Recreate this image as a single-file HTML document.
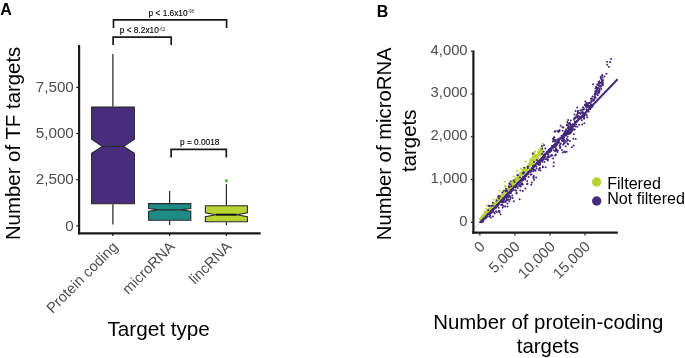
<!DOCTYPE html>
<html><head><meta charset="utf-8"><style>
html,body{margin:0;padding:0;background:#fff;width:685px;height:358px;overflow:hidden;}
svg{display:block;will-change:transform;}
text{font-family:"Liberation Sans",sans-serif;}
</style></head><body>
<svg width="685" height="358" viewBox="0 0 685 358">
<rect width="685" height="358" fill="#fff"/>
<g>
<text id="tA" x="0.2" y="15" font-size="16" font-weight="bold" fill="#000">A</text>
<text id="tB" x="376.8" y="16.8" font-size="16" font-weight="bold" fill="#000">B</text>
</g>
<g stroke="#1a1a1a" stroke-width="1.7" fill="none" stroke-linecap="butt">
<path d="M113.5 28 V19.9 H226.6 V28"/>
<path d="M113.1 45 V37.1 H171.2 V45"/>
<path d="M171.1 157.5 V149.4 H226.3 V157.5"/>
</g>
<g font-size="8.3" fill="#000" stroke="#000" stroke-width="0.12">
<text id="p1" x="148.6" y="15.5">p &lt; 1.6x10<tspan font-size="4.5" dy="-2.8" stroke-width="0" fill="#333">-98</tspan></text>
<text id="p2" x="119.8" y="33.4">p &lt; 8.2x10<tspan font-size="4.5" dy="-2.8" stroke-width="0" fill="#333">-63</tspan></text>
<text id="p3" x="180" y="144.9">p = 0.0018</text>
</g>
<g stroke="#2a2a2a" stroke-width="1.25">
<line x1="112.9" y1="53.9" x2="112.9" y2="106.6"/><line x1="112.9" y1="204.3" x2="112.9" y2="224.4"/>
<line x1="169.6" y1="191" x2="169.6" y2="203.1"/><line x1="169.6" y1="220.7" x2="169.6" y2="225"/>
<line x1="226.4" y1="184" x2="226.4" y2="205.3"/><line x1="226.4" y1="222.3" x2="226.4" y2="225"/>
</g>
<path d="M91.6 107.1 H134.4 V139.2 L123.8 146.4 L134.4 153.2 V203.8 H91.6 V153.2 L102.2 146.4 L91.6 139.2 Z" fill="#472d7b" stroke="#2a2a2a" stroke-width="1.1" stroke-linejoin="miter"/>
<line x1="102.2" y1="146.4" x2="123.8" y2="146.4" stroke="#2a2a2a" stroke-width="1.2"/>
<path d="M148.6 203.6 H190.8 V208.6 L180.2 209.9 L190.8 211.3 V220.2 H148.6 V211.3 L159.2 209.9 L148.6 208.6 Z" fill="#1f8b86" stroke="#2a2a2a" stroke-width="1.1" stroke-linejoin="miter"/>
<line x1="159.2" y1="209.9" x2="180.2" y2="209.9" stroke="#2a2a2a" stroke-width="1.2"/>
<path d="M205.4 205.8 H247.4 V212.9 L236.8 214.7 L247.4 216.6 V221.8 H205.4 V216.6 L216.0 214.7 L205.4 212.9 Z" fill="#b8d432" stroke="#2a2a2a" stroke-width="1.1" stroke-linejoin="miter"/>
<line x1="216" y1="214.7" x2="236.8" y2="214.7" stroke="#111" stroke-width="2"/>
<circle cx="226.4" cy="180.8" r="1.7" fill="#5ec04c"/>
<g stroke="#1a1a1a" fill="none">
<line x1="79.1" y1="44.9" x2="79.1" y2="234.4" stroke-width="2.2"/>
<line x1="78" y1="233.3" x2="260.7" y2="233.3" stroke-width="2.2"/>
<line x1="76.3" y1="87.4" x2="78.5" y2="87.4" stroke-width="1.2"/>
<line x1="76.3" y1="133.55" x2="78.5" y2="133.55" stroke-width="1.2"/>
<line x1="76.3" y1="179.7" x2="78.5" y2="179.7" stroke-width="1.2"/>
<line x1="76.3" y1="225.9" x2="78.5" y2="225.9" stroke-width="1.2"/>
<line x1="112.8" y1="234" x2="112.8" y2="236" stroke-width="1.2"/>
<line x1="169.6" y1="234" x2="169.6" y2="236" stroke-width="1.2"/>
<line x1="226.4" y1="234" x2="226.4" y2="236" stroke-width="1.2"/>
</g>
<g font-size="15.2" fill="#4d4d4d" text-anchor="end">
<text id="ay0" x="73.8" y="92.0">7,500</text>
<text id="ay1" x="73.8" y="138.2">5,000</text>
<text id="ay2" x="73.8" y="184.3">2,500</text>
<text id="ay3" x="73.8" y="230.5">0</text>
</g>
<g font-size="14.7" fill="#4d4d4d" text-anchor="end">
<text id="ax0" transform="translate(118.8,247.6) rotate(-45)">Protein coding</text>
<text id="ax1" transform="translate(175.6,247.6) rotate(-45)">microRNA</text>
<text id="ax2" transform="translate(232.4,247.6) rotate(-45)">lincRNA</text>
</g>
<text id="axt" x="158.6" y="336" font-size="20.7" fill="#000" text-anchor="middle">Target type</text>
<text id="ayt" transform="translate(20.2,143.4) rotate(-90)" font-size="20.4" fill="#000" text-anchor="middle">Number of TF targets</text>
<line x1="474.7" y1="228.5" x2="480" y2="222.3" stroke="#c9c3dc" stroke-width="0.8"/>
<g fill="#44287a"><circle cx="509.5" cy="193.5" r="1.0"/><circle cx="485.9" cy="216.1" r="1.0"/><circle cx="484.8" cy="217.9" r="1.0"/><circle cx="519.6" cy="182.3" r="1.0"/><circle cx="518.5" cy="183.0" r="1.0"/><circle cx="499.0" cy="201.2" r="1.0"/><circle cx="534.0" cy="165.2" r="1.0"/><circle cx="483.5" cy="219.4" r="1.0"/><circle cx="492.7" cy="210.5" r="1.0"/><circle cx="557.2" cy="143.9" r="1.0"/><circle cx="539.7" cy="160.3" r="1.0"/><circle cx="485.3" cy="218.0" r="1.0"/><circle cx="543.6" cy="156.2" r="1.0"/><circle cx="534.3" cy="165.8" r="1.0"/><circle cx="554.3" cy="145.1" r="1.0"/><circle cx="532.9" cy="165.7" r="1.0"/><circle cx="549.3" cy="151.3" r="1.0"/><circle cx="490.4" cy="211.5" r="1.0"/><circle cx="493.1" cy="209.1" r="1.0"/><circle cx="541.7" cy="158.4" r="1.0"/><circle cx="563.2" cy="136.1" r="1.0"/><circle cx="534.8" cy="164.8" r="1.0"/><circle cx="558.9" cy="142.1" r="1.0"/><circle cx="542.0" cy="160.3" r="1.0"/><circle cx="540.1" cy="162.5" r="1.0"/><circle cx="505.8" cy="195.7" r="1.0"/><circle cx="481.8" cy="220.8" r="1.0"/><circle cx="490.2" cy="213.7" r="1.0"/><circle cx="491.5" cy="211.5" r="1.0"/><circle cx="562.4" cy="138.6" r="1.0"/><circle cx="530.2" cy="171.7" r="1.0"/><circle cx="561.9" cy="137.9" r="1.0"/><circle cx="511.7" cy="191.0" r="1.0"/><circle cx="493.3" cy="209.7" r="1.0"/><circle cx="500.7" cy="200.5" r="1.0"/><circle cx="503.4" cy="199.5" r="1.0"/><circle cx="513.0" cy="186.3" r="1.0"/><circle cx="544.3" cy="154.5" r="1.0"/><circle cx="543.3" cy="159.8" r="1.0"/><circle cx="552.7" cy="148.4" r="1.0"/><circle cx="515.7" cy="185.7" r="1.0"/><circle cx="539.0" cy="162.1" r="1.0"/><circle cx="498.6" cy="204.3" r="1.0"/><circle cx="484.3" cy="218.9" r="1.0"/><circle cx="488.7" cy="214.0" r="1.0"/><circle cx="562.4" cy="136.4" r="1.0"/><circle cx="502.7" cy="199.3" r="1.0"/><circle cx="489.5" cy="213.3" r="1.0"/><circle cx="522.6" cy="178.3" r="1.0"/><circle cx="488.9" cy="213.7" r="1.0"/><circle cx="558.1" cy="142.0" r="1.0"/><circle cx="570.1" cy="127.7" r="1.0"/><circle cx="530.1" cy="172.2" r="1.0"/><circle cx="572.4" cy="126.8" r="1.0"/><circle cx="503.4" cy="198.6" r="1.0"/><circle cx="552.2" cy="145.7" r="1.0"/><circle cx="510.3" cy="192.4" r="1.0"/><circle cx="572.9" cy="126.2" r="1.0"/><circle cx="556.7" cy="142.9" r="1.0"/><circle cx="527.7" cy="173.4" r="1.0"/><circle cx="482.5" cy="220.6" r="1.0"/><circle cx="544.5" cy="157.0" r="1.0"/><circle cx="568.7" cy="133.4" r="1.0"/><circle cx="513.2" cy="188.9" r="1.0"/><circle cx="497.8" cy="205.4" r="1.0"/><circle cx="564.7" cy="134.9" r="1.0"/><circle cx="540.6" cy="160.0" r="1.0"/><circle cx="541.1" cy="160.7" r="1.0"/><circle cx="550.3" cy="149.2" r="1.0"/><circle cx="554.7" cy="144.9" r="1.0"/><circle cx="572.4" cy="125.1" r="1.0"/><circle cx="569.5" cy="128.8" r="1.0"/><circle cx="491.6" cy="212.6" r="1.0"/><circle cx="556.4" cy="145.6" r="1.0"/><circle cx="572.7" cy="124.5" r="1.0"/><circle cx="530.6" cy="170.5" r="1.0"/><circle cx="571.7" cy="125.3" r="1.0"/><circle cx="568.7" cy="127.9" r="1.0"/><circle cx="558.0" cy="142.4" r="1.0"/><circle cx="506.7" cy="195.8" r="1.0"/><circle cx="503.1" cy="198.7" r="1.0"/><circle cx="566.4" cy="132.2" r="1.0"/><circle cx="533.7" cy="167.8" r="1.0"/><circle cx="566.8" cy="130.6" r="1.0"/><circle cx="528.2" cy="174.0" r="1.0"/><circle cx="496.0" cy="207.7" r="1.0"/><circle cx="495.1" cy="206.3" r="1.0"/><circle cx="531.8" cy="169.0" r="1.0"/><circle cx="531.1" cy="169.8" r="1.0"/><circle cx="532.0" cy="169.2" r="1.0"/><circle cx="552.4" cy="146.1" r="1.0"/><circle cx="551.0" cy="150.0" r="1.0"/><circle cx="536.8" cy="162.7" r="1.0"/><circle cx="544.8" cy="154.5" r="1.0"/><circle cx="523.5" cy="178.9" r="1.0"/><circle cx="562.6" cy="137.7" r="1.0"/><circle cx="531.4" cy="171.2" r="1.0"/><circle cx="492.1" cy="211.3" r="1.0"/><circle cx="486.2" cy="216.7" r="1.0"/><circle cx="541.5" cy="158.7" r="1.0"/><circle cx="492.8" cy="208.9" r="1.0"/><circle cx="491.6" cy="211.5" r="1.0"/><circle cx="499.2" cy="203.6" r="1.0"/><circle cx="524.6" cy="178.4" r="1.0"/><circle cx="494.2" cy="207.7" r="1.0"/><circle cx="510.9" cy="191.5" r="1.0"/><circle cx="547.6" cy="154.3" r="1.0"/><circle cx="520.2" cy="182.1" r="1.0"/><circle cx="537.9" cy="162.4" r="1.0"/><circle cx="572.5" cy="125.6" r="1.0"/><circle cx="489.0" cy="213.7" r="1.0"/><circle cx="553.3" cy="146.9" r="1.0"/><circle cx="518.0" cy="184.5" r="1.0"/><circle cx="503.7" cy="200.2" r="1.0"/><circle cx="532.5" cy="168.0" r="1.0"/><circle cx="484.3" cy="217.8" r="1.0"/><circle cx="485.8" cy="217.6" r="1.0"/><circle cx="555.7" cy="146.8" r="1.0"/><circle cx="485.2" cy="217.7" r="1.0"/><circle cx="510.2" cy="189.4" r="1.0"/><circle cx="504.2" cy="198.9" r="1.0"/><circle cx="501.2" cy="201.4" r="1.0"/><circle cx="484.5" cy="218.9" r="1.0"/><circle cx="507.0" cy="194.6" r="1.0"/><circle cx="526.2" cy="175.7" r="1.0"/><circle cx="481.5" cy="221.5" r="1.0"/><circle cx="548.5" cy="151.0" r="1.0"/><circle cx="523.4" cy="178.2" r="1.0"/><circle cx="557.2" cy="141.6" r="1.0"/><circle cx="558.9" cy="140.1" r="1.0"/><circle cx="544.1" cy="157.4" r="1.0"/><circle cx="557.8" cy="141.0" r="1.0"/><circle cx="516.9" cy="184.6" r="1.0"/><circle cx="491.4" cy="212.4" r="1.0"/><circle cx="502.8" cy="199.6" r="1.0"/><circle cx="558.8" cy="141.9" r="1.0"/><circle cx="505.5" cy="196.9" r="1.0"/><circle cx="522.3" cy="179.9" r="1.0"/><circle cx="503.1" cy="200.7" r="1.0"/><circle cx="531.5" cy="170.6" r="1.0"/><circle cx="507.7" cy="194.1" r="1.0"/><circle cx="514.6" cy="186.0" r="1.0"/><circle cx="497.6" cy="204.6" r="1.0"/><circle cx="503.7" cy="199.3" r="1.0"/><circle cx="483.4" cy="220.0" r="1.0"/><circle cx="500.3" cy="200.8" r="1.0"/><circle cx="549.8" cy="148.9" r="1.0"/><circle cx="563.2" cy="135.6" r="1.0"/><circle cx="574.0" cy="126.1" r="1.0"/><circle cx="540.0" cy="162.9" r="1.0"/><circle cx="563.8" cy="133.6" r="1.0"/><circle cx="556.7" cy="144.6" r="1.0"/><circle cx="525.7" cy="175.8" r="1.0"/><circle cx="557.3" cy="139.8" r="1.0"/><circle cx="543.4" cy="156.5" r="1.0"/><circle cx="482.8" cy="220.8" r="1.0"/><circle cx="488.5" cy="214.2" r="1.0"/><circle cx="537.8" cy="161.2" r="1.0"/><circle cx="524.9" cy="178.1" r="1.0"/><circle cx="550.1" cy="148.7" r="1.0"/><circle cx="541.6" cy="160.9" r="1.0"/><circle cx="502.5" cy="200.3" r="1.0"/><circle cx="548.8" cy="152.6" r="1.0"/><circle cx="572.6" cy="124.4" r="1.0"/><circle cx="523.2" cy="176.7" r="1.0"/><circle cx="537.1" cy="163.2" r="1.0"/><circle cx="493.4" cy="209.7" r="1.0"/><circle cx="507.2" cy="194.5" r="1.0"/><circle cx="485.6" cy="217.7" r="1.0"/><circle cx="544.3" cy="155.4" r="1.0"/><circle cx="527.6" cy="172.5" r="1.0"/><circle cx="490.0" cy="212.8" r="1.0"/><circle cx="572.8" cy="125.7" r="1.0"/><circle cx="521.0" cy="180.5" r="1.0"/><circle cx="521.3" cy="180.3" r="1.0"/><circle cx="570.1" cy="129.5" r="1.0"/><circle cx="492.1" cy="208.6" r="1.0"/><circle cx="491.0" cy="211.5" r="1.0"/><circle cx="563.5" cy="135.3" r="1.0"/><circle cx="564.8" cy="134.1" r="1.0"/><circle cx="480.3" cy="222.1" r="1.0"/><circle cx="507.3" cy="195.4" r="1.0"/><circle cx="508.3" cy="193.5" r="1.0"/><circle cx="550.1" cy="150.2" r="1.0"/><circle cx="566.8" cy="130.6" r="1.0"/><circle cx="506.2" cy="195.5" r="1.0"/><circle cx="574.7" cy="122.0" r="1.0"/><circle cx="519.1" cy="182.4" r="1.0"/><circle cx="488.3" cy="214.3" r="1.0"/><circle cx="568.9" cy="130.2" r="1.0"/><circle cx="527.3" cy="174.5" r="1.0"/><circle cx="570.1" cy="129.8" r="1.0"/><circle cx="538.1" cy="164.3" r="1.0"/><circle cx="530.5" cy="170.3" r="1.0"/><circle cx="548.7" cy="149.9" r="1.0"/><circle cx="540.0" cy="160.6" r="1.0"/><circle cx="568.0" cy="132.2" r="1.0"/><circle cx="511.6" cy="190.4" r="1.0"/><circle cx="573.2" cy="125.5" r="1.0"/><circle cx="506.8" cy="194.2" r="1.0"/><circle cx="494.8" cy="208.1" r="1.0"/><circle cx="565.6" cy="132.6" r="1.0"/><circle cx="565.7" cy="134.9" r="1.0"/><circle cx="492.2" cy="210.6" r="1.0"/><circle cx="510.9" cy="191.5" r="1.0"/><circle cx="502.6" cy="197.6" r="1.0"/><circle cx="550.4" cy="148.9" r="1.0"/><circle cx="528.5" cy="172.2" r="1.0"/><circle cx="486.2" cy="217.4" r="1.0"/><circle cx="490.8" cy="210.8" r="1.0"/><circle cx="561.7" cy="138.5" r="1.0"/><circle cx="502.3" cy="199.4" r="1.0"/><circle cx="569.8" cy="129.8" r="1.0"/><circle cx="481.8" cy="222.2" r="1.0"/><circle cx="564.7" cy="132.9" r="1.0"/><circle cx="480.6" cy="221.9" r="1.0"/><circle cx="556.8" cy="144.3" r="1.0"/><circle cx="502.2" cy="200.5" r="1.0"/><circle cx="527.2" cy="172.0" r="1.0"/><circle cx="546.9" cy="151.7" r="1.0"/><circle cx="521.7" cy="179.3" r="1.0"/><circle cx="554.3" cy="147.0" r="1.0"/><circle cx="540.2" cy="160.4" r="1.0"/><circle cx="501.9" cy="199.0" r="1.0"/><circle cx="489.8" cy="213.8" r="1.0"/><circle cx="534.1" cy="166.4" r="1.0"/><circle cx="535.7" cy="166.0" r="1.0"/><circle cx="522.0" cy="180.5" r="1.0"/><circle cx="563.5" cy="135.0" r="1.0"/><circle cx="501.7" cy="201.4" r="1.0"/><circle cx="507.6" cy="195.3" r="1.0"/><circle cx="543.0" cy="156.9" r="1.0"/><circle cx="542.0" cy="159.1" r="1.0"/><circle cx="483.1" cy="219.8" r="1.0"/><circle cx="544.3" cy="157.5" r="1.0"/><circle cx="549.2" cy="150.3" r="1.0"/><circle cx="572.7" cy="125.4" r="1.0"/><circle cx="501.0" cy="202.0" r="1.0"/><circle cx="506.2" cy="196.5" r="1.0"/><circle cx="496.8" cy="206.1" r="1.0"/><circle cx="541.9" cy="159.2" r="1.0"/><circle cx="516.7" cy="186.5" r="1.0"/><circle cx="492.3" cy="210.5" r="1.0"/><circle cx="515.2" cy="187.4" r="1.0"/><circle cx="548.5" cy="154.5" r="1.0"/><circle cx="510.4" cy="193.0" r="1.0"/><circle cx="550.0" cy="152.1" r="1.0"/><circle cx="514.5" cy="186.8" r="1.0"/><circle cx="494.7" cy="208.3" r="1.0"/><circle cx="511.6" cy="190.5" r="1.0"/><circle cx="571.8" cy="127.4" r="1.0"/><circle cx="556.9" cy="143.2" r="1.0"/><circle cx="484.1" cy="218.2" r="1.0"/><circle cx="567.3" cy="132.4" r="1.0"/><circle cx="564.8" cy="135.8" r="1.0"/><circle cx="556.2" cy="143.7" r="1.0"/><circle cx="483.1" cy="221.4" r="1.0"/><circle cx="502.0" cy="199.2" r="1.0"/><circle cx="511.5" cy="191.0" r="1.0"/><circle cx="537.8" cy="163.4" r="1.0"/><circle cx="508.4" cy="193.5" r="1.0"/><circle cx="550.5" cy="150.8" r="1.0"/><circle cx="569.4" cy="130.3" r="1.0"/><circle cx="523.2" cy="180.1" r="1.0"/><circle cx="515.4" cy="186.6" r="1.0"/><circle cx="525.1" cy="176.5" r="1.0"/><circle cx="554.7" cy="144.4" r="1.0"/><circle cx="552.3" cy="146.8" r="1.0"/><circle cx="509.2" cy="192.2" r="1.0"/><circle cx="487.2" cy="216.5" r="1.0"/><circle cx="502.0" cy="200.4" r="1.0"/><circle cx="532.0" cy="168.7" r="1.0"/><circle cx="563.4" cy="137.0" r="1.0"/><circle cx="487.3" cy="216.3" r="1.0"/><circle cx="546.4" cy="153.3" r="1.0"/><circle cx="517.5" cy="182.6" r="1.0"/><circle cx="549.5" cy="151.2" r="1.0"/><circle cx="490.1" cy="212.5" r="1.0"/><circle cx="532.8" cy="167.4" r="1.0"/><circle cx="497.8" cy="204.9" r="1.0"/><circle cx="502.2" cy="204.7" r="1.0"/><circle cx="519.6" cy="199.3" r="1.0"/><circle cx="534.9" cy="170.0" r="1.0"/><circle cx="545.5" cy="159.3" r="1.0"/><circle cx="528.6" cy="177.0" r="1.0"/><circle cx="567.9" cy="140.2" r="1.0"/><circle cx="502.6" cy="207.6" r="1.0"/><circle cx="539.2" cy="168.4" r="1.0"/><circle cx="563.9" cy="143.6" r="1.0"/><circle cx="556.0" cy="148.5" r="1.0"/><circle cx="540.2" cy="164.6" r="1.0"/><circle cx="521.9" cy="183.5" r="1.0"/><circle cx="510.8" cy="197.4" r="1.0"/><circle cx="507.4" cy="200.1" r="1.0"/><circle cx="548.5" cy="156.2" r="1.0"/><circle cx="506.1" cy="197.3" r="1.0"/><circle cx="496.0" cy="211.3" r="1.0"/><circle cx="536.4" cy="166.8" r="1.0"/><circle cx="502.9" cy="200.7" r="1.0"/><circle cx="516.4" cy="193.4" r="1.0"/><circle cx="516.2" cy="190.8" r="1.0"/><circle cx="522.9" cy="191.0" r="1.0"/><circle cx="522.4" cy="184.5" r="1.0"/><circle cx="507.4" cy="206.6" r="1.0"/><circle cx="525.1" cy="178.8" r="1.0"/><circle cx="565.2" cy="140.7" r="1.0"/><circle cx="490.8" cy="217.6" r="1.0"/><circle cx="568.1" cy="144.2" r="1.0"/><circle cx="521.5" cy="184.1" r="1.0"/><circle cx="513.8" cy="201.2" r="1.0"/><circle cx="499.4" cy="212.2" r="1.0"/><circle cx="572.7" cy="129.6" r="1.0"/><circle cx="570.0" cy="141.0" r="1.0"/><circle cx="494.1" cy="212.5" r="1.0"/><circle cx="565.6" cy="146.3" r="1.0"/><circle cx="502.9" cy="200.0" r="1.0"/><circle cx="522.8" cy="184.5" r="1.0"/><circle cx="506.5" cy="198.3" r="1.0"/><circle cx="534.4" cy="170.3" r="1.0"/><circle cx="508.9" cy="193.4" r="1.0"/><circle cx="492.9" cy="216.4" r="1.0"/><circle cx="492.8" cy="211.1" r="1.0"/><circle cx="540.5" cy="170.6" r="1.0"/><circle cx="516.7" cy="193.1" r="1.0"/><circle cx="525.3" cy="179.6" r="1.0"/><circle cx="527.5" cy="183.8" r="1.0"/><circle cx="533.3" cy="171.2" r="1.0"/><circle cx="556.5" cy="149.7" r="1.0"/><circle cx="530.6" cy="174.4" r="1.0"/><circle cx="527.2" cy="181.3" r="1.0"/><circle cx="533.7" cy="178.0" r="1.0"/><circle cx="495.3" cy="206.9" r="1.0"/><circle cx="533.9" cy="176.1" r="1.0"/><circle cx="522.0" cy="183.2" r="1.0"/><circle cx="562.8" cy="152.5" r="1.0"/><circle cx="561.9" cy="150.1" r="1.0"/><circle cx="531.2" cy="184.8" r="1.0"/><circle cx="501.8" cy="201.6" r="1.0"/><circle cx="496.9" cy="212.0" r="1.0"/><circle cx="503.0" cy="202.5" r="1.0"/><circle cx="560.3" cy="147.8" r="1.0"/><circle cx="568.9" cy="134.0" r="1.0"/><circle cx="533.3" cy="169.5" r="1.0"/><circle cx="507.5" cy="203.6" r="1.0"/><circle cx="547.4" cy="157.2" r="1.0"/><circle cx="557.5" cy="152.1" r="1.0"/><circle cx="545.7" cy="167.3" r="1.0"/><circle cx="536.2" cy="177.6" r="1.0"/><circle cx="498.8" cy="210.7" r="1.0"/><circle cx="522.8" cy="180.0" r="1.0"/><circle cx="573.8" cy="134.2" r="1.0"/><circle cx="555.2" cy="150.8" r="1.0"/><circle cx="553.8" cy="162.6" r="1.0"/><circle cx="509.4" cy="201.2" r="1.0"/><circle cx="539.1" cy="165.0" r="1.0"/><circle cx="490.3" cy="215.5" r="1.0"/><circle cx="542.9" cy="167.3" r="1.0"/><circle cx="566.7" cy="138.8" r="1.0"/><circle cx="545.5" cy="156.2" r="1.0"/><circle cx="520.8" cy="186.5" r="1.0"/><circle cx="508.4" cy="199.7" r="1.0"/><circle cx="506.6" cy="199.6" r="1.0"/><circle cx="501.2" cy="204.8" r="1.0"/><circle cx="503.5" cy="206.0" r="1.0"/><circle cx="563.1" cy="138.3" r="1.0"/><circle cx="512.6" cy="198.1" r="1.0"/><circle cx="539.0" cy="170.0" r="1.0"/><circle cx="527.1" cy="184.2" r="1.0"/><circle cx="511.0" cy="192.8" r="1.0"/><circle cx="535.6" cy="170.8" r="1.0"/><circle cx="494.8" cy="208.4" r="1.0"/><circle cx="536.6" cy="168.5" r="1.0"/><circle cx="506.2" cy="200.6" r="1.0"/><circle cx="544.0" cy="158.6" r="1.0"/><circle cx="516.6" cy="186.6" r="1.0"/><circle cx="564.0" cy="137.8" r="1.0"/><circle cx="489.2" cy="216.6" r="1.0"/><circle cx="528.5" cy="172.7" r="1.0"/><circle cx="509.7" cy="196.5" r="1.0"/><circle cx="494.7" cy="213.6" r="1.0"/><circle cx="547.8" cy="159.2" r="1.0"/><circle cx="512.3" cy="195.5" r="1.0"/><circle cx="556.9" cy="150.5" r="1.0"/><circle cx="544.4" cy="162.0" r="1.0"/><circle cx="564.9" cy="142.8" r="1.0"/><circle cx="507.7" cy="193.0" r="1.0"/><circle cx="555.2" cy="155.6" r="1.0"/><circle cx="520.1" cy="185.2" r="1.0"/><circle cx="542.2" cy="161.7" r="1.0"/><circle cx="573.6" cy="145.4" r="1.0"/><circle cx="548.5" cy="157.2" r="1.0"/><circle cx="551.2" cy="155.8" r="1.0"/><circle cx="507.7" cy="196.2" r="1.0"/><circle cx="567.6" cy="134.2" r="1.0"/><circle cx="498.7" cy="207.8" r="1.0"/><circle cx="502.1" cy="202.3" r="1.0"/><circle cx="547.7" cy="160.6" r="1.0"/><circle cx="553.2" cy="158.6" r="1.0"/><circle cx="519.2" cy="186.0" r="1.0"/><circle cx="566.6" cy="151.8" r="1.0"/><circle cx="567.6" cy="136.8" r="1.0"/><circle cx="507.7" cy="196.3" r="1.0"/><circle cx="560.7" cy="143.4" r="1.0"/><circle cx="559.5" cy="145.5" r="1.0"/><circle cx="499.5" cy="210.9" r="1.0"/><circle cx="508.4" cy="197.6" r="1.0"/><circle cx="492.6" cy="211.7" r="1.0"/><circle cx="551.5" cy="155.1" r="1.0"/><circle cx="571.9" cy="147.3" r="1.0"/><circle cx="542.8" cy="166.6" r="1.0"/><circle cx="526.2" cy="175.7" r="1.0"/><circle cx="549.7" cy="156.7" r="1.0"/><circle cx="564.3" cy="151.5" r="1.0"/><circle cx="504.5" cy="201.7" r="1.0"/><circle cx="554.8" cy="146.8" r="1.0"/><circle cx="531.8" cy="182.4" r="1.0"/><circle cx="505.7" cy="201.8" r="1.0"/><circle cx="563.1" cy="141.3" r="1.0"/><circle cx="515.6" cy="190.3" r="1.0"/><circle cx="533.3" cy="177.0" r="1.0"/><circle cx="495.4" cy="207.9" r="1.0"/><circle cx="556.2" cy="149.5" r="1.0"/><circle cx="525.4" cy="188.6" r="1.0"/><circle cx="497.2" cy="206.6" r="1.0"/><circle cx="509.7" cy="196.1" r="1.0"/><circle cx="534.0" cy="179.7" r="1.0"/><circle cx="510.2" cy="199.2" r="1.0"/><circle cx="552.7" cy="146.9" r="1.0"/><circle cx="520.1" cy="184.2" r="1.0"/><circle cx="560.3" cy="146.7" r="1.0"/><circle cx="505.1" cy="206.4" r="1.0"/><circle cx="540.0" cy="168.0" r="1.0"/><circle cx="565.9" cy="135.6" r="1.0"/><circle cx="513.8" cy="190.0" r="1.0"/><circle cx="503.8" cy="201.8" r="1.0"/><circle cx="517.7" cy="188.0" r="1.0"/><circle cx="520.4" cy="190.4" r="1.0"/><circle cx="553.5" cy="166.2" r="1.0"/><circle cx="500.5" cy="214.3" r="1.0"/><circle cx="556.5" cy="144.1" r="1.0"/><circle cx="506.3" cy="197.7" r="1.0"/><circle cx="507.7" cy="196.2" r="1.0"/><circle cx="522.4" cy="180.6" r="1.0"/><circle cx="531.7" cy="174.4" r="1.0"/><circle cx="501.4" cy="204.8" r="1.0"/><circle cx="552.4" cy="155.4" r="1.0"/><circle cx="537.7" cy="162.7" r="1.0"/><circle cx="507.4" cy="195.1" r="1.0"/><circle cx="553.9" cy="150.2" r="1.0"/><circle cx="546.9" cy="158.9" r="1.0"/><circle cx="588.6" cy="109.2" r="1.0"/><circle cx="598.2" cy="92.7" r="1.0"/><circle cx="582.6" cy="112.7" r="1.0"/><circle cx="598.2" cy="85.2" r="1.0"/><circle cx="570.1" cy="133.4" r="1.0"/><circle cx="558.2" cy="139.0" r="1.0"/><circle cx="581.9" cy="109.8" r="1.0"/><circle cx="597.7" cy="95.3" r="1.0"/><circle cx="580.3" cy="110.5" r="1.0"/><circle cx="597.5" cy="88.6" r="1.0"/><circle cx="602.1" cy="84.6" r="1.0"/><circle cx="588.6" cy="111.4" r="1.0"/><circle cx="589.9" cy="106.0" r="1.0"/><circle cx="602.2" cy="75.7" r="1.0"/><circle cx="599.4" cy="91.1" r="1.0"/><circle cx="589.5" cy="102.8" r="1.0"/><circle cx="576.2" cy="116.2" r="1.0"/><circle cx="595.0" cy="97.4" r="1.0"/><circle cx="578.1" cy="110.9" r="1.0"/><circle cx="571.4" cy="128.5" r="1.0"/><circle cx="583.7" cy="113.8" r="1.0"/><circle cx="600.6" cy="76.7" r="1.0"/><circle cx="575.0" cy="122.2" r="1.0"/><circle cx="584.9" cy="104.8" r="1.0"/><circle cx="554.5" cy="141.5" r="1.0"/><circle cx="584.6" cy="115.3" r="1.0"/><circle cx="555.2" cy="151.3" r="1.0"/><circle cx="585.7" cy="104.2" r="1.0"/><circle cx="598.6" cy="82.0" r="1.0"/><circle cx="586.7" cy="105.1" r="1.0"/><circle cx="591.7" cy="104.4" r="1.0"/><circle cx="579.9" cy="117.2" r="1.0"/><circle cx="566.6" cy="141.6" r="1.0"/><circle cx="598.9" cy="83.3" r="1.0"/><circle cx="594.8" cy="93.4" r="1.0"/><circle cx="571.5" cy="126.4" r="1.0"/><circle cx="574.2" cy="118.2" r="1.0"/><circle cx="600.9" cy="86.8" r="1.0"/><circle cx="557.7" cy="150.4" r="1.0"/><circle cx="585.2" cy="114.0" r="1.0"/><circle cx="555.0" cy="140.7" r="1.0"/><circle cx="600.5" cy="86.2" r="1.0"/><circle cx="579.1" cy="124.7" r="1.0"/><circle cx="568.1" cy="131.4" r="1.0"/><circle cx="552.5" cy="146.1" r="1.0"/><circle cx="602.8" cy="85.3" r="1.0"/><circle cx="563.2" cy="144.7" r="1.0"/><circle cx="569.0" cy="128.7" r="1.0"/><circle cx="555.8" cy="143.7" r="1.0"/><circle cx="597.0" cy="89.6" r="1.0"/><circle cx="586.9" cy="105.6" r="1.0"/><circle cx="603.0" cy="83.1" r="1.0"/><circle cx="591.8" cy="101.1" r="1.0"/><circle cx="588.6" cy="105.8" r="1.0"/><circle cx="572.6" cy="124.6" r="1.0"/><circle cx="597.6" cy="88.2" r="1.0"/><circle cx="575.6" cy="117.3" r="1.0"/><circle cx="591.5" cy="107.5" r="1.0"/><circle cx="574.8" cy="117.9" r="1.0"/><circle cx="579.7" cy="113.1" r="1.0"/><circle cx="599.6" cy="83.1" r="1.0"/><circle cx="573.3" cy="138.7" r="1.0"/><circle cx="590.4" cy="103.0" r="1.0"/><circle cx="586.8" cy="115.6" r="1.0"/><circle cx="587.8" cy="107.0" r="1.0"/><circle cx="599.7" cy="83.7" r="1.0"/><circle cx="585.7" cy="114.2" r="1.0"/><circle cx="571.8" cy="130.6" r="1.0"/><circle cx="577.8" cy="111.7" r="1.0"/><circle cx="599.1" cy="92.8" r="1.0"/><circle cx="594.7" cy="96.2" r="1.0"/><circle cx="569.8" cy="132.7" r="1.0"/><circle cx="589.9" cy="105.7" r="1.0"/><circle cx="559.4" cy="131.0" r="1.0"/><circle cx="565.0" cy="131.7" r="1.0"/><circle cx="568.2" cy="123.4" r="1.0"/><circle cx="581.5" cy="117.6" r="1.0"/><circle cx="592.1" cy="99.0" r="1.0"/><circle cx="558.6" cy="142.7" r="1.0"/><circle cx="568.1" cy="119.9" r="1.0"/><circle cx="598.4" cy="83.8" r="1.0"/><circle cx="586.9" cy="110.2" r="1.0"/><circle cx="565.2" cy="131.5" r="1.0"/><circle cx="585.9" cy="106.8" r="1.0"/><circle cx="565.2" cy="152.2" r="1.0"/><circle cx="577.3" cy="126.7" r="1.0"/><circle cx="595.7" cy="97.7" r="1.0"/><circle cx="574.9" cy="122.1" r="1.0"/><circle cx="555.9" cy="154.4" r="1.0"/><circle cx="581.4" cy="112.4" r="1.0"/><circle cx="595.4" cy="88.4" r="1.0"/><circle cx="591.5" cy="100.5" r="1.0"/><circle cx="570.4" cy="131.7" r="1.0"/><circle cx="566.3" cy="134.4" r="1.0"/><circle cx="584.1" cy="114.4" r="1.0"/><circle cx="600.8" cy="83.0" r="1.0"/><circle cx="587.0" cy="107.1" r="1.0"/><circle cx="602.7" cy="80.8" r="1.0"/><circle cx="588.1" cy="111.4" r="1.0"/><circle cx="577.5" cy="117.8" r="1.0"/><circle cx="601.6" cy="82.5" r="1.0"/><circle cx="557.4" cy="143.3" r="1.0"/><circle cx="598.2" cy="90.7" r="1.0"/><circle cx="555.6" cy="144.6" r="1.0"/><circle cx="588.7" cy="106.7" r="1.0"/><circle cx="561.6" cy="135.7" r="1.0"/><circle cx="591.3" cy="101.8" r="1.0"/><circle cx="594.0" cy="99.9" r="1.0"/><circle cx="571.2" cy="132.4" r="1.0"/><circle cx="566.0" cy="134.0" r="1.0"/><circle cx="590.2" cy="109.2" r="1.0"/><circle cx="567.5" cy="143.6" r="1.0"/><circle cx="567.6" cy="140.0" r="1.0"/><circle cx="599.5" cy="89.2" r="1.0"/><circle cx="560.0" cy="147.8" r="1.0"/><circle cx="588.3" cy="103.3" r="1.0"/><circle cx="596.3" cy="87.8" r="1.0"/><circle cx="564.2" cy="135.8" r="1.0"/><circle cx="591.4" cy="98.8" r="1.0"/><circle cx="599.0" cy="88.2" r="1.0"/><circle cx="566.5" cy="133.3" r="1.0"/><circle cx="575.4" cy="126.5" r="1.0"/><circle cx="573.3" cy="126.6" r="1.0"/><circle cx="602.9" cy="85.0" r="1.0"/><circle cx="590.8" cy="105.0" r="1.0"/><circle cx="572.6" cy="126.3" r="1.0"/><circle cx="575.7" cy="138.9" r="1.0"/><circle cx="600.6" cy="86.0" r="1.0"/><circle cx="599.5" cy="91.1" r="1.0"/><circle cx="572.3" cy="126.9" r="1.0"/><circle cx="595.9" cy="92.7" r="1.0"/><circle cx="551.4" cy="150.8" r="1.0"/><circle cx="567.3" cy="122.1" r="1.0"/><circle cx="568.0" cy="128.0" r="1.0"/><circle cx="564.5" cy="134.0" r="1.0"/><circle cx="567.3" cy="133.9" r="1.0"/><circle cx="587.2" cy="104.8" r="1.0"/><circle cx="566.6" cy="125.1" r="1.0"/><circle cx="595.3" cy="91.3" r="1.0"/><circle cx="557.6" cy="140.7" r="1.0"/><circle cx="592.6" cy="106.3" r="1.0"/><circle cx="572.8" cy="129.0" r="1.0"/><circle cx="582.2" cy="124.6" r="1.0"/><circle cx="580.7" cy="118.4" r="1.0"/><circle cx="565.6" cy="135.0" r="1.0"/><circle cx="566.1" cy="129.3" r="1.0"/><circle cx="552.8" cy="141.6" r="1.0"/><circle cx="584.1" cy="118.7" r="1.0"/><circle cx="595.1" cy="94.8" r="1.0"/><circle cx="592.6" cy="96.4" r="1.0"/><circle cx="556.5" cy="150.6" r="1.0"/><circle cx="582.0" cy="109.7" r="1.0"/><circle cx="584.3" cy="123.3" r="1.0"/><circle cx="569.0" cy="131.2" r="1.0"/><circle cx="569.8" cy="129.1" r="1.0"/><circle cx="560.2" cy="137.8" r="1.0"/><circle cx="553.7" cy="140.0" r="1.0"/><circle cx="582.9" cy="112.8" r="1.0"/><circle cx="597.6" cy="88.4" r="1.0"/><circle cx="562.6" cy="130.8" r="1.0"/><circle cx="572.3" cy="130.6" r="1.0"/><circle cx="562.4" cy="127.3" r="1.0"/><circle cx="563.4" cy="127.5" r="1.0"/><circle cx="563.1" cy="139.7" r="1.0"/><circle cx="578.0" cy="112.8" r="1.0"/><circle cx="584.9" cy="105.2" r="1.0"/><circle cx="594.8" cy="94.6" r="1.0"/><circle cx="575.6" cy="111.0" r="1.0"/><circle cx="594.4" cy="99.1" r="1.0"/><circle cx="597.5" cy="94.1" r="1.0"/><circle cx="601.1" cy="83.1" r="1.0"/><circle cx="578.0" cy="116.0" r="1.0"/><circle cx="584.2" cy="116.9" r="1.0"/><circle cx="582.6" cy="116.8" r="1.0"/><circle cx="599.5" cy="81.2" r="1.0"/><circle cx="586.3" cy="109.3" r="1.0"/><circle cx="598.8" cy="91.7" r="1.0"/><circle cx="570.2" cy="125.9" r="1.0"/><circle cx="583.6" cy="117.4" r="1.0"/><circle cx="569.9" cy="123.1" r="1.0"/><circle cx="601.9" cy="81.1" r="1.0"/><circle cx="589.7" cy="109.1" r="1.0"/><circle cx="601.2" cy="79.0" r="1.0"/><circle cx="580.7" cy="114.1" r="1.0"/><circle cx="563.3" cy="139.8" r="1.0"/><circle cx="578.7" cy="118.9" r="1.0"/><circle cx="559.7" cy="130.0" r="1.0"/><circle cx="586.6" cy="102.7" r="1.0"/><circle cx="566.2" cy="130.2" r="1.0"/><circle cx="583.8" cy="108.3" r="1.0"/><circle cx="573.9" cy="125.2" r="1.0"/><circle cx="583.8" cy="109.8" r="1.0"/><circle cx="555.4" cy="140.0" r="1.0"/><circle cx="569.0" cy="123.6" r="1.0"/><circle cx="571.8" cy="130.7" r="1.0"/><circle cx="594.3" cy="97.1" r="1.0"/><circle cx="598.1" cy="87.4" r="1.0"/><circle cx="577.7" cy="113.6" r="1.0"/><circle cx="564.2" cy="140.0" r="1.0"/><circle cx="593.4" cy="100.7" r="1.0"/><circle cx="574.1" cy="119.7" r="1.0"/><circle cx="596.1" cy="91.9" r="1.0"/><circle cx="591.0" cy="98.6" r="1.0"/><circle cx="579.7" cy="117.6" r="1.0"/><circle cx="601.2" cy="89.1" r="1.0"/><circle cx="551.5" cy="147.9" r="1.0"/><circle cx="581.9" cy="120.3" r="1.0"/><circle cx="576.5" cy="121.1" r="1.0"/><circle cx="587.8" cy="104.9" r="1.0"/><circle cx="579.6" cy="116.4" r="1.0"/><circle cx="576.9" cy="116.2" r="1.0"/><circle cx="571.9" cy="126.6" r="1.0"/><circle cx="582.5" cy="112.1" r="1.0"/><circle cx="573.9" cy="129.4" r="1.0"/><circle cx="587.1" cy="117.5" r="1.0"/><circle cx="572.3" cy="129.5" r="1.0"/><circle cx="602.4" cy="81.9" r="1.0"/><circle cx="599.6" cy="86.1" r="1.0"/><circle cx="585.3" cy="101.6" r="1.0"/><circle cx="593.2" cy="84.3" r="1.0"/><circle cx="583.0" cy="107.3" r="1.0"/><circle cx="578.2" cy="116.7" r="1.0"/><circle cx="574.8" cy="129.6" r="1.0"/><circle cx="584.0" cy="116.5" r="1.0"/><circle cx="577.2" cy="114.4" r="1.0"/><circle cx="598.1" cy="91.3" r="1.0"/><circle cx="577.2" cy="107.4" r="1.0"/><circle cx="574.5" cy="114.4" r="1.0"/><circle cx="568.1" cy="127.6" r="1.0"/><circle cx="596.2" cy="90.6" r="1.0"/><circle cx="597.2" cy="84.4" r="1.0"/><circle cx="602.0" cy="80.5" r="1.0"/><circle cx="565.8" cy="133.0" r="1.0"/><circle cx="583.1" cy="115.4" r="1.0"/><circle cx="587.5" cy="103.7" r="1.0"/><circle cx="602.5" cy="77.4" r="1.0"/><circle cx="577.4" cy="120.4" r="1.0"/><circle cx="590.7" cy="105.5" r="1.0"/><circle cx="596.1" cy="86.7" r="1.0"/><circle cx="567.1" cy="125.3" r="1.0"/><circle cx="569.9" cy="123.8" r="1.0"/><circle cx="602.4" cy="75.1" r="1.0"/><circle cx="563.9" cy="141.9" r="1.0"/><circle cx="561.9" cy="140.7" r="1.0"/><circle cx="582.1" cy="116.0" r="1.0"/><circle cx="595.5" cy="94.2" r="1.0"/><circle cx="595.4" cy="94.1" r="1.0"/><circle cx="576.1" cy="124.4" r="1.0"/><circle cx="560.3" cy="144.3" r="1.0"/><circle cx="575.5" cy="118.3" r="1.0"/><circle cx="611.1" cy="59.0" r="1.0"/><circle cx="610.0" cy="62.0" r="1.0"/><circle cx="607.0" cy="61.8" r="1.0"/><circle cx="607.1" cy="64.8" r="1.0"/><circle cx="608.8" cy="67.1" r="1.0"/><circle cx="606.5" cy="73.8" r="1.0"/><circle cx="604.5" cy="76.5" r="1.0"/><circle cx="601.0" cy="78.0" r="1.0"/><circle cx="603.0" cy="80.0" r="1.0"/></g>
<line x1="480" y1="222.3" x2="617.6" y2="79.2" stroke="#44287a" stroke-width="2"/>
<g fill="#b5d334"><circle cx="484.6" cy="214.4" r="1.0"/><circle cx="540.5" cy="150.4" r="1.0"/><circle cx="499.0" cy="200.3" r="1.0"/><circle cx="535.2" cy="157.8" r="1.0"/><circle cx="532.9" cy="160.9" r="1.0"/><circle cx="540.4" cy="148.1" r="1.0"/><circle cx="498.7" cy="199.1" r="1.0"/><circle cx="497.6" cy="201.0" r="1.0"/><circle cx="513.3" cy="183.1" r="1.0"/><circle cx="493.9" cy="204.7" r="1.0"/><circle cx="541.3" cy="151.6" r="1.0"/><circle cx="489.5" cy="208.9" r="1.0"/><circle cx="508.7" cy="188.7" r="1.0"/><circle cx="533.2" cy="160.3" r="1.0"/><circle cx="495.2" cy="203.5" r="1.0"/><circle cx="482.9" cy="215.7" r="1.0"/><circle cx="492.4" cy="206.1" r="1.0"/><circle cx="500.0" cy="197.9" r="1.0"/><circle cx="510.6" cy="186.5" r="1.0"/><circle cx="493.1" cy="205.5" r="1.0"/><circle cx="506.9" cy="190.7" r="1.0"/><circle cx="539.9" cy="152.1" r="1.0"/><circle cx="512.0" cy="186.0" r="1.0"/><circle cx="499.4" cy="198.9" r="1.0"/><circle cx="506.8" cy="190.8" r="1.0"/><circle cx="496.3" cy="202.1" r="1.0"/><circle cx="515.2" cy="180.1" r="1.0"/><circle cx="530.3" cy="162.7" r="1.0"/><circle cx="518.7" cy="176.9" r="1.0"/><circle cx="487.9" cy="211.8" r="1.0"/><circle cx="503.4" cy="193.9" r="1.0"/><circle cx="518.4" cy="176.8" r="1.0"/><circle cx="502.0" cy="196.2" r="1.0"/><circle cx="497.7" cy="201.4" r="1.0"/><circle cx="501.4" cy="195.8" r="1.0"/><circle cx="529.8" cy="166.6" r="1.0"/><circle cx="490.9" cy="207.9" r="1.0"/><circle cx="524.6" cy="169.5" r="1.0"/><circle cx="508.8" cy="187.0" r="1.0"/><circle cx="498.6" cy="199.5" r="1.0"/><circle cx="522.1" cy="173.7" r="1.0"/><circle cx="537.3" cy="155.5" r="1.0"/><circle cx="483.7" cy="215.5" r="1.0"/><circle cx="495.7" cy="202.9" r="1.0"/><circle cx="483.9" cy="215.3" r="1.0"/><circle cx="493.8" cy="204.6" r="1.0"/><circle cx="527.3" cy="167.8" r="1.0"/><circle cx="525.1" cy="169.9" r="1.0"/><circle cx="533.3" cy="160.8" r="1.0"/><circle cx="483.5" cy="215.4" r="1.0"/><circle cx="484.4" cy="214.7" r="1.0"/><circle cx="531.8" cy="164.1" r="1.0"/><circle cx="529.0" cy="167.9" r="1.0"/><circle cx="507.5" cy="189.0" r="1.0"/><circle cx="501.3" cy="198.0" r="1.0"/><circle cx="509.7" cy="188.1" r="1.0"/><circle cx="527.8" cy="167.5" r="1.0"/><circle cx="511.8" cy="186.3" r="1.0"/><circle cx="510.1" cy="184.6" r="1.0"/><circle cx="490.4" cy="208.2" r="1.0"/><circle cx="526.0" cy="169.1" r="1.0"/><circle cx="517.1" cy="180.4" r="1.0"/><circle cx="517.2" cy="178.9" r="1.0"/><circle cx="505.9" cy="191.0" r="1.0"/><circle cx="503.2" cy="195.4" r="1.0"/><circle cx="524.6" cy="170.9" r="1.0"/><circle cx="515.6" cy="178.4" r="1.0"/><circle cx="506.0" cy="191.4" r="1.0"/><circle cx="491.4" cy="206.9" r="1.0"/><circle cx="532.3" cy="159.0" r="1.0"/><circle cx="493.1" cy="204.9" r="1.0"/><circle cx="511.6" cy="184.6" r="1.0"/><circle cx="489.8" cy="209.2" r="1.0"/><circle cx="496.1" cy="202.7" r="1.0"/><circle cx="495.0" cy="203.0" r="1.0"/><circle cx="489.7" cy="209.2" r="1.0"/><circle cx="506.2" cy="191.2" r="1.0"/><circle cx="480.8" cy="218.8" r="1.0"/><circle cx="486.3" cy="211.4" r="1.0"/><circle cx="518.4" cy="178.7" r="1.0"/><circle cx="510.9" cy="186.6" r="1.0"/><circle cx="480.4" cy="218.9" r="1.0"/><circle cx="521.7" cy="175.3" r="1.0"/><circle cx="499.1" cy="199.1" r="1.0"/><circle cx="481.9" cy="216.6" r="1.0"/><circle cx="502.3" cy="196.1" r="1.0"/><circle cx="534.1" cy="160.8" r="1.0"/><circle cx="530.3" cy="164.9" r="1.0"/><circle cx="504.4" cy="194.1" r="1.0"/><circle cx="503.7" cy="193.5" r="1.0"/><circle cx="506.3" cy="190.9" r="1.0"/><circle cx="483.5" cy="214.8" r="1.0"/><circle cx="532.1" cy="160.4" r="1.0"/><circle cx="539.6" cy="151.5" r="1.0"/><circle cx="493.0" cy="205.9" r="1.0"/><circle cx="486.7" cy="211.9" r="1.0"/><circle cx="511.0" cy="186.0" r="1.0"/><circle cx="483.7" cy="215.2" r="1.0"/><circle cx="527.3" cy="170.4" r="1.0"/><circle cx="534.4" cy="159.7" r="1.0"/><circle cx="500.8" cy="196.4" r="1.0"/><circle cx="510.0" cy="186.6" r="1.0"/><circle cx="523.5" cy="172.4" r="1.0"/><circle cx="493.4" cy="205.4" r="1.0"/><circle cx="518.3" cy="177.2" r="1.0"/><circle cx="487.6" cy="211.4" r="1.0"/><circle cx="540.6" cy="155.6" r="1.0"/><circle cx="541.0" cy="154.8" r="1.0"/><circle cx="532.4" cy="164.3" r="1.0"/><circle cx="521.2" cy="174.2" r="1.0"/><circle cx="540.0" cy="150.5" r="1.0"/><circle cx="502.6" cy="194.9" r="1.0"/><circle cx="482.9" cy="216.7" r="1.0"/><circle cx="511.5" cy="186.5" r="1.0"/><circle cx="506.5" cy="189.8" r="1.0"/><circle cx="516.1" cy="178.8" r="1.0"/><circle cx="490.0" cy="209.6" r="1.0"/><circle cx="517.7" cy="180.4" r="1.0"/><circle cx="499.3" cy="199.4" r="1.0"/><circle cx="499.0" cy="198.4" r="1.0"/><circle cx="497.3" cy="200.7" r="1.0"/><circle cx="515.2" cy="180.6" r="1.0"/><circle cx="509.0" cy="188.8" r="1.0"/><circle cx="535.0" cy="156.1" r="1.0"/><circle cx="529.8" cy="169.0" r="1.0"/><circle cx="527.6" cy="169.8" r="1.0"/><circle cx="508.6" cy="190.1" r="1.0"/><circle cx="518.0" cy="177.8" r="1.0"/><circle cx="530.4" cy="165.3" r="1.0"/><circle cx="506.7" cy="191.5" r="1.0"/><circle cx="496.9" cy="201.7" r="1.0"/><circle cx="509.7" cy="187.7" r="1.0"/><circle cx="535.3" cy="154.5" r="1.0"/><circle cx="535.9" cy="159.8" r="1.0"/><circle cx="504.3" cy="192.7" r="1.0"/><circle cx="533.2" cy="162.3" r="1.0"/><circle cx="528.0" cy="168.9" r="1.0"/><circle cx="483.8" cy="214.9" r="1.0"/><circle cx="517.2" cy="178.8" r="1.0"/><circle cx="538.3" cy="154.4" r="1.0"/><circle cx="495.3" cy="202.8" r="1.0"/><circle cx="519.3" cy="176.7" r="1.0"/><circle cx="489.0" cy="209.6" r="1.0"/><circle cx="518.1" cy="177.8" r="1.0"/><circle cx="507.7" cy="190.9" r="1.0"/><circle cx="516.2" cy="178.5" r="1.0"/><circle cx="539.8" cy="155.4" r="1.0"/><circle cx="492.1" cy="205.8" r="1.0"/><circle cx="531.7" cy="163.7" r="1.0"/><circle cx="532.4" cy="160.8" r="1.0"/><circle cx="513.5" cy="184.5" r="1.0"/><circle cx="507.7" cy="189.8" r="1.0"/><circle cx="486.7" cy="212.2" r="1.0"/><circle cx="536.7" cy="156.5" r="1.0"/><circle cx="493.7" cy="204.9" r="1.0"/><circle cx="519.2" cy="175.9" r="1.0"/><circle cx="480.2" cy="218.5" r="1.0"/><circle cx="482.0" cy="216.2" r="1.0"/><circle cx="484.4" cy="215.2" r="1.0"/><circle cx="500.7" cy="197.4" r="1.0"/><circle cx="499.5" cy="197.7" r="1.0"/><circle cx="540.2" cy="153.6" r="1.0"/><circle cx="517.4" cy="178.1" r="1.0"/><circle cx="529.9" cy="162.7" r="1.0"/><circle cx="506.6" cy="190.8" r="1.0"/><circle cx="535.5" cy="160.7" r="1.0"/><circle cx="501.9" cy="195.3" r="1.0"/><circle cx="514.8" cy="180.6" r="1.0"/><circle cx="517.5" cy="178.1" r="1.0"/><circle cx="505.3" cy="192.0" r="1.0"/><circle cx="513.5" cy="182.5" r="1.0"/><circle cx="498.0" cy="200.1" r="1.0"/><circle cx="480.2" cy="218.9" r="1.0"/><circle cx="511.1" cy="184.7" r="1.0"/><circle cx="493.5" cy="205.4" r="1.0"/><circle cx="502.3" cy="194.8" r="1.0"/><circle cx="539.7" cy="151.9" r="1.0"/><circle cx="519.4" cy="177.0" r="1.0"/><circle cx="519.2" cy="177.7" r="1.0"/><circle cx="530.5" cy="161.3" r="1.0"/><circle cx="486.0" cy="212.2" r="1.0"/><circle cx="500.6" cy="197.3" r="1.0"/><circle cx="493.6" cy="205.4" r="1.0"/><circle cx="496.9" cy="201.3" r="1.0"/><circle cx="520.2" cy="176.3" r="1.0"/><circle cx="494.5" cy="203.1" r="1.0"/><circle cx="520.6" cy="177.2" r="1.0"/><circle cx="535.9" cy="157.5" r="1.0"/><circle cx="494.6" cy="203.1" r="1.0"/><circle cx="522.5" cy="173.5" r="1.0"/><circle cx="503.4" cy="193.6" r="1.0"/><circle cx="508.5" cy="187.9" r="1.0"/><circle cx="485.1" cy="213.8" r="1.0"/><circle cx="522.1" cy="172.8" r="1.0"/><circle cx="520.5" cy="175.4" r="1.0"/><circle cx="481.0" cy="218.3" r="1.0"/><circle cx="542.0" cy="153.9" r="1.0"/><circle cx="527.5" cy="167.1" r="1.0"/><circle cx="492.9" cy="206.5" r="1.0"/><circle cx="487.3" cy="211.3" r="1.0"/><circle cx="516.5" cy="178.0" r="1.0"/><circle cx="523.4" cy="170.6" r="1.0"/><circle cx="528.8" cy="166.2" r="1.0"/><circle cx="529.3" cy="165.2" r="1.0"/><circle cx="530.0" cy="166.1" r="1.0"/><circle cx="500.6" cy="195.8" r="1.0"/><circle cx="490.8" cy="208.3" r="1.0"/><circle cx="523.2" cy="171.9" r="1.0"/><circle cx="542.4" cy="151.6" r="1.0"/><circle cx="487.7" cy="211.4" r="1.0"/><circle cx="485.3" cy="213.2" r="1.0"/><circle cx="494.2" cy="204.5" r="1.0"/><circle cx="492.5" cy="206.9" r="1.0"/><circle cx="538.3" cy="155.5" r="1.0"/><circle cx="531.3" cy="164.2" r="1.0"/><circle cx="514.2" cy="181.3" r="1.0"/><circle cx="531.7" cy="161.2" r="1.0"/><circle cx="537.6" cy="158.7" r="1.0"/><circle cx="485.5" cy="212.9" r="1.0"/><circle cx="535.3" cy="160.9" r="1.0"/><circle cx="508.7" cy="189.7" r="1.0"/><circle cx="522.1" cy="173.7" r="1.0"/><circle cx="499.8" cy="197.9" r="1.0"/><circle cx="495.3" cy="202.7" r="1.0"/><circle cx="502.0" cy="196.1" r="1.0"/><circle cx="519.0" cy="178.6" r="1.0"/><circle cx="535.9" cy="158.1" r="1.0"/><circle cx="533.1" cy="161.0" r="1.0"/><circle cx="513.5" cy="183.2" r="1.0"/><circle cx="524.9" cy="168.7" r="1.0"/><circle cx="519.0" cy="177.2" r="1.0"/><circle cx="536.6" cy="155.5" r="1.0"/><circle cx="535.6" cy="160.3" r="1.0"/><circle cx="542.3" cy="150.7" r="1.0"/><circle cx="489.3" cy="209.5" r="1.0"/><circle cx="538.1" cy="157.7" r="1.0"/><circle cx="488.6" cy="210.8" r="1.0"/><circle cx="488.2" cy="210.7" r="1.0"/><circle cx="526.4" cy="171.0" r="1.0"/><circle cx="483.5" cy="216.1" r="1.0"/><circle cx="525.5" cy="171.2" r="1.0"/><circle cx="497.7" cy="200.3" r="1.0"/><circle cx="481.7" cy="217.6" r="1.0"/><circle cx="536.2" cy="159.4" r="1.0"/><circle cx="491.1" cy="207.4" r="1.0"/><circle cx="525.6" cy="171.2" r="1.0"/><circle cx="514.7" cy="182.5" r="1.0"/><circle cx="514.1" cy="182.9" r="1.0"/><circle cx="496.4" cy="202.6" r="1.0"/><circle cx="528.0" cy="166.8" r="1.0"/><circle cx="499.9" cy="198.2" r="1.0"/><circle cx="515.2" cy="180.1" r="1.0"/><circle cx="506.1" cy="192.3" r="1.0"/><circle cx="523.3" cy="170.2" r="1.0"/><circle cx="525.4" cy="172.5" r="1.0"/><circle cx="527.2" cy="166.7" r="1.0"/><circle cx="509.5" cy="188.1" r="1.0"/><circle cx="507.6" cy="189.2" r="1.0"/><circle cx="542.4" cy="153.5" r="1.0"/><circle cx="538.9" cy="154.9" r="1.0"/><circle cx="507.2" cy="190.2" r="1.0"/><circle cx="489.2" cy="209.4" r="1.0"/><circle cx="537.7" cy="158.8" r="1.0"/><circle cx="503.4" cy="193.3" r="1.0"/><circle cx="503.1" cy="194.5" r="1.0"/><circle cx="528.3" cy="167.1" r="1.0"/><circle cx="519.9" cy="176.7" r="1.0"/><circle cx="521.7" cy="173.3" r="1.0"/><circle cx="526.9" cy="166.7" r="1.0"/><circle cx="520.8" cy="174.0" r="1.0"/><circle cx="521.9" cy="172.5" r="1.0"/><circle cx="521.7" cy="174.2" r="1.0"/><circle cx="512.5" cy="183.4" r="1.0"/><circle cx="513.2" cy="183.5" r="1.0"/><circle cx="538.5" cy="152.6" r="1.0"/><circle cx="515.9" cy="180.3" r="1.0"/><circle cx="493.3" cy="205.1" r="1.0"/><circle cx="522.1" cy="174.0" r="1.0"/><circle cx="535.4" cy="160.2" r="1.0"/><circle cx="533.2" cy="161.1" r="1.0"/><circle cx="492.5" cy="206.3" r="1.0"/><circle cx="505.4" cy="191.8" r="1.0"/><circle cx="511.8" cy="185.8" r="1.0"/><circle cx="542.0" cy="150.0" r="1.0"/><circle cx="512.7" cy="183.8" r="1.0"/><circle cx="491.8" cy="206.4" r="1.0"/><circle cx="516.0" cy="180.5" r="1.0"/><circle cx="504.7" cy="192.6" r="1.0"/><circle cx="495.6" cy="202.7" r="1.0"/><circle cx="493.8" cy="204.4" r="1.0"/><circle cx="504.2" cy="193.9" r="1.0"/><circle cx="487.3" cy="210.6" r="1.0"/><circle cx="495.9" cy="202.2" r="1.0"/><circle cx="521.4" cy="173.9" r="1.0"/><circle cx="511.4" cy="184.7" r="1.0"/><circle cx="502.1" cy="195.2" r="1.0"/><circle cx="532.5" cy="161.0" r="1.0"/><circle cx="519.0" cy="177.4" r="1.0"/><circle cx="540.7" cy="151.8" r="1.0"/><circle cx="524.2" cy="170.8" r="1.0"/><circle cx="529.4" cy="164.0" r="1.0"/><circle cx="514.0" cy="183.5" r="1.0"/><circle cx="482.1" cy="216.4" r="1.0"/><circle cx="511.9" cy="184.9" r="1.0"/><circle cx="512.7" cy="184.4" r="1.0"/><circle cx="513.9" cy="180.5" r="1.0"/><circle cx="524.0" cy="170.7" r="1.0"/><circle cx="483.3" cy="215.1" r="1.0"/><circle cx="529.8" cy="164.7" r="1.0"/><circle cx="497.2" cy="202.0" r="1.0"/><circle cx="488.8" cy="210.7" r="1.0"/><circle cx="518.4" cy="179.3" r="1.0"/><circle cx="526.7" cy="167.7" r="1.0"/><circle cx="525.7" cy="167.8" r="1.0"/><circle cx="541.8" cy="152.4" r="1.0"/><circle cx="492.1" cy="206.7" r="1.0"/><circle cx="480.3" cy="219.0" r="1.0"/><circle cx="499.9" cy="198.1" r="1.0"/><circle cx="534.7" cy="157.1" r="1.0"/><circle cx="509.7" cy="187.9" r="1.0"/><circle cx="534.7" cy="159.7" r="1.0"/><circle cx="499.5" cy="198.7" r="1.0"/><circle cx="516.9" cy="178.5" r="1.0"/><circle cx="513.7" cy="181.7" r="1.0"/><circle cx="532.3" cy="163.7" r="1.0"/><circle cx="517.8" cy="179.1" r="1.0"/><circle cx="516.6" cy="178.4" r="1.0"/><circle cx="504.2" cy="193.7" r="1.0"/><circle cx="501.1" cy="195.9" r="1.0"/><circle cx="520.0" cy="173.0" r="1.0"/><circle cx="511.1" cy="185.7" r="1.0"/><circle cx="510.4" cy="186.1" r="1.0"/><circle cx="535.2" cy="161.0" r="1.0"/><circle cx="494.0" cy="204.8" r="1.0"/><circle cx="531.7" cy="160.1" r="1.0"/><circle cx="524.8" cy="170.2" r="1.0"/><circle cx="534.3" cy="162.7" r="1.0"/><circle cx="496.1" cy="202.5" r="1.0"/><circle cx="530.6" cy="165.3" r="1.0"/><circle cx="524.3" cy="171.4" r="1.0"/><circle cx="525.3" cy="170.1" r="1.0"/><circle cx="525.9" cy="171.9" r="1.0"/><circle cx="502.1" cy="196.1" r="1.0"/><circle cx="503.3" cy="193.9" r="1.0"/><circle cx="538.3" cy="154.2" r="1.0"/><circle cx="491.4" cy="206.7" r="1.0"/><circle cx="508.0" cy="189.9" r="1.0"/><circle cx="523.0" cy="172.9" r="1.0"/><circle cx="488.0" cy="210.3" r="1.0"/><circle cx="510.1" cy="186.3" r="1.0"/><circle cx="533.7" cy="163.7" r="1.0"/><circle cx="542.2" cy="153.1" r="1.0"/><circle cx="502.0" cy="195.6" r="1.0"/><circle cx="514.2" cy="182.5" r="1.0"/><circle cx="513.2" cy="183.7" r="1.0"/><circle cx="516.9" cy="179.7" r="1.0"/><circle cx="499.9" cy="198.4" r="1.0"/><circle cx="497.3" cy="201.0" r="1.0"/><circle cx="520.2" cy="176.5" r="1.0"/><circle cx="539.4" cy="153.5" r="1.0"/><circle cx="504.3" cy="192.7" r="1.0"/><circle cx="528.9" cy="167.4" r="1.0"/><circle cx="502.2" cy="196.4" r="1.0"/><circle cx="487.9" cy="210.1" r="1.0"/><circle cx="520.1" cy="175.2" r="1.0"/><circle cx="515.5" cy="182.2" r="1.0"/><circle cx="490.6" cy="207.6" r="1.0"/><circle cx="506.7" cy="190.0" r="1.0"/><circle cx="493.4" cy="205.4" r="1.0"/><circle cx="533.7" cy="161.5" r="1.0"/><circle cx="492.3" cy="207.2" r="1.0"/><circle cx="489.7" cy="208.6" r="1.0"/><circle cx="489.7" cy="208.8" r="1.0"/><circle cx="516.5" cy="178.4" r="1.0"/><circle cx="495.5" cy="202.9" r="1.0"/><circle cx="491.0" cy="208.3" r="1.0"/><circle cx="514.5" cy="181.8" r="1.0"/><circle cx="539.5" cy="150.5" r="1.0"/><circle cx="518.4" cy="176.9" r="1.0"/><circle cx="529.0" cy="166.5" r="1.0"/><circle cx="485.9" cy="209.1" r="1.0"/><circle cx="502.1" cy="192.3" r="1.0"/><circle cx="539.2" cy="149.8" r="1.0"/><circle cx="498.5" cy="196.6" r="1.0"/><circle cx="520.9" cy="172.6" r="1.0"/><circle cx="487.9" cy="205.3" r="1.0"/><circle cx="499.2" cy="190.8" r="1.0"/><circle cx="486.6" cy="206.3" r="1.0"/><circle cx="522.3" cy="170.1" r="1.0"/><circle cx="505.2" cy="186.0" r="1.0"/><circle cx="534.3" cy="152.2" r="1.0"/><circle cx="484.7" cy="211.6" r="1.0"/><circle cx="542.3" cy="147.2" r="1.0"/><circle cx="489.5" cy="206.7" r="1.0"/><circle cx="499.2" cy="197.4" r="1.0"/><circle cx="493.4" cy="199.7" r="1.0"/><circle cx="505.3" cy="189.7" r="1.0"/><circle cx="497.6" cy="198.0" r="1.0"/><circle cx="504.5" cy="181.7" r="1.0"/><circle cx="533.1" cy="158.5" r="1.0"/><circle cx="513.7" cy="176.4" r="1.0"/><circle cx="540.3" cy="151.9" r="1.0"/><circle cx="530.6" cy="161.5" r="1.0"/><circle cx="522.8" cy="170.0" r="1.0"/><circle cx="536.4" cy="156.0" r="1.0"/><circle cx="528.5" cy="163.9" r="1.0"/><circle cx="505.7" cy="186.5" r="1.0"/><circle cx="525.7" cy="161.6" r="1.0"/><circle cx="530.2" cy="159.5" r="1.0"/><circle cx="542.1" cy="145.8" r="1.0"/><circle cx="540.1" cy="152.0" r="1.0"/><circle cx="533.7" cy="153.6" r="1.0"/><circle cx="520.6" cy="168.8" r="1.0"/><circle cx="532.6" cy="158.3" r="1.0"/><circle cx="538.0" cy="152.3" r="1.0"/><circle cx="517.0" cy="170.7" r="1.0"/><circle cx="542.6" cy="143.5" r="1.0"/><circle cx="532.8" cy="155.1" r="1.0"/><circle cx="499.6" cy="196.2" r="1.0"/><circle cx="496.3" cy="199.2" r="1.0"/><circle cx="512.4" cy="182.8" r="1.0"/><circle cx="540.3" cy="148.5" r="1.0"/><circle cx="526.5" cy="166.7" r="1.0"/><circle cx="532.6" cy="157.7" r="1.0"/><circle cx="533.2" cy="157.0" r="1.0"/><circle cx="535.2" cy="151.2" r="1.0"/><circle cx="509.2" cy="183.0" r="1.0"/><circle cx="535.8" cy="154.7" r="1.0"/><circle cx="505.1" cy="186.6" r="1.0"/><circle cx="533.2" cy="156.7" r="1.0"/><circle cx="484.3" cy="213.1" r="1.0"/><circle cx="490.9" cy="206.8" r="1.0"/><circle cx="534.4" cy="155.0" r="1.0"/><circle cx="512.4" cy="181.1" r="1.0"/><circle cx="504.8" cy="190.9" r="1.0"/></g>
<g fill="#44287a"><circle cx="514.6" cy="182.1" r="1.0"/><circle cx="523.7" cy="172.5" r="1.0"/><circle cx="554.5" cy="140.1" r="1.0"/><circle cx="509.3" cy="183.7" r="1.0"/><circle cx="524.0" cy="167.8" r="1.0"/><circle cx="522.8" cy="173.2" r="1.0"/><circle cx="545.4" cy="148.4" r="1.0"/><circle cx="543.6" cy="151.8" r="1.0"/><circle cx="554.1" cy="137.5" r="1.0"/><circle cx="570.8" cy="120.4" r="1.0"/><circle cx="491.2" cy="205.8" r="1.0"/><circle cx="554.5" cy="141.0" r="1.0"/><circle cx="567.9" cy="125.2" r="1.0"/><circle cx="536.8" cy="159.9" r="1.0"/><circle cx="534.0" cy="162.0" r="1.0"/><circle cx="542.3" cy="148.7" r="1.0"/><circle cx="558.5" cy="132.1" r="1.0"/><circle cx="568.6" cy="126.4" r="1.0"/><circle cx="505.9" cy="191.0" r="1.0"/><circle cx="552.8" cy="138.7" r="1.0"/><circle cx="498.4" cy="197.0" r="1.0"/><circle cx="492.8" cy="205.7" r="1.0"/><circle cx="511.3" cy="186.2" r="1.0"/><circle cx="523.6" cy="173.6" r="1.0"/><circle cx="523.7" cy="172.5" r="1.0"/><circle cx="510.5" cy="184.2" r="1.0"/><circle cx="507.1" cy="190.7" r="1.0"/><circle cx="532.8" cy="153.5" r="1.0"/><circle cx="506.6" cy="190.5" r="1.0"/><circle cx="506.0" cy="188.8" r="1.0"/><circle cx="499.0" cy="198.5" r="1.0"/><circle cx="541.9" cy="146.1" r="1.0"/><circle cx="527.9" cy="166.6" r="1.0"/><circle cx="569.9" cy="124.2" r="1.0"/><circle cx="518.0" cy="174.9" r="1.0"/><circle cx="557.4" cy="131.1" r="1.0"/><circle cx="527.8" cy="168.1" r="1.0"/><circle cx="498.6" cy="195.8" r="1.0"/><circle cx="558.9" cy="130.7" r="1.0"/><circle cx="510.7" cy="181.5" r="1.0"/><circle cx="520.0" cy="177.6" r="1.0"/><circle cx="503.8" cy="190.8" r="1.0"/><circle cx="488.2" cy="210.3" r="1.0"/><circle cx="508.8" cy="186.3" r="1.0"/><circle cx="513.7" cy="180.2" r="1.0"/><circle cx="542.2" cy="154.0" r="1.0"/><circle cx="544.0" cy="145.3" r="1.0"/><circle cx="560.6" cy="125.7" r="1.0"/><circle cx="492.9" cy="202.7" r="1.0"/><circle cx="554.6" cy="131.4" r="1.0"/><circle cx="499.9" cy="196.2" r="1.0"/><circle cx="489.3" cy="205.9" r="1.0"/><circle cx="489.0" cy="205.7" r="1.0"/><circle cx="509.3" cy="187.2" r="1.0"/><circle cx="496.6" cy="200.5" r="1.0"/><circle cx="554.0" cy="139.3" r="1.0"/><circle cx="517.4" cy="175.3" r="1.0"/><circle cx="555.3" cy="131.5" r="1.0"/><circle cx="502.3" cy="192.4" r="1.0"/><circle cx="554.4" cy="137.3" r="1.0"/></g>
<g stroke="#1a1a1a" fill="none">
<line x1="473.4" y1="50.4" x2="473.4" y2="233.8" stroke-width="2.2"/>
<line x1="472.3" y1="232.7" x2="617.8" y2="232.7" stroke-width="2.2"/>
<line x1="470.8" y1="222.3" x2="472.6" y2="222.3" stroke-width="1.2"/>
<line x1="470.8" y1="179.5" x2="472.6" y2="179.5" stroke-width="1.2"/>
<line x1="470.8" y1="136.7" x2="472.6" y2="136.7" stroke-width="1.2"/>
<line x1="470.8" y1="94.0" x2="472.6" y2="94.0" stroke-width="1.2"/>
<line x1="470.8" y1="51.2" x2="472.6" y2="51.2" stroke-width="1.2"/>
<line x1="479.9" y1="233.5" x2="479.9" y2="235.6" stroke-width="1.2"/>
<line x1="514.9" y1="233.5" x2="514.9" y2="235.6" stroke-width="1.2"/>
<line x1="550.0" y1="233.5" x2="550.0" y2="235.6" stroke-width="1.2"/>
<line x1="585.0" y1="233.5" x2="585.0" y2="235.6" stroke-width="1.2"/>
</g>
<g font-size="14.8" fill="#4d4d4d" text-anchor="end">
<text id="by0" x="467.6" y="225.6">0</text>
<text id="by1" x="467.6" y="182.8">1,000</text>
<text id="by2" x="467.6" y="140.0">2,000</text>
<text id="by3" x="467.6" y="97.3">3,000</text>
<text id="by4" x="467.6" y="54.5">4,000</text>
<text id="bx0" transform="translate(485.9,247.5) rotate(-45)">0</text>
<text id="bx1" transform="translate(520.93,247.5) rotate(-45)">5,000</text>
<text id="bx2" transform="translate(555.96,247.5) rotate(-45)">10,000</text>
<text id="bx3" transform="translate(590.99,247.5) rotate(-45)">15,000</text>
</g>
<circle cx="596.7" cy="182" r="4.7" fill="#b5d334"/><circle cx="596.7" cy="201" r="4.7" fill="#472d7b"/>
<g font-size="16.1" fill="#000"><text id="lg0" x="607.2" y="188.9">Filtered</text><text id="lg1" x="607.2" y="204">Not filtered</text></g>
<g font-size="20.4" fill="#000" text-anchor="middle">
<text id="byt1" transform="translate(390.6,143.8) rotate(-90)" font-size="20.3">Number of microRNA</text>
<text id="byt2" transform="translate(415.7,140.8) rotate(-90)">targets</text>
<text id="bxt1" x="548.3" y="328.9">Number of protein-coding</text>
<text id="bxt2" x="548" y="352.7">targets</text>
</g>
</svg>
</body></html>
